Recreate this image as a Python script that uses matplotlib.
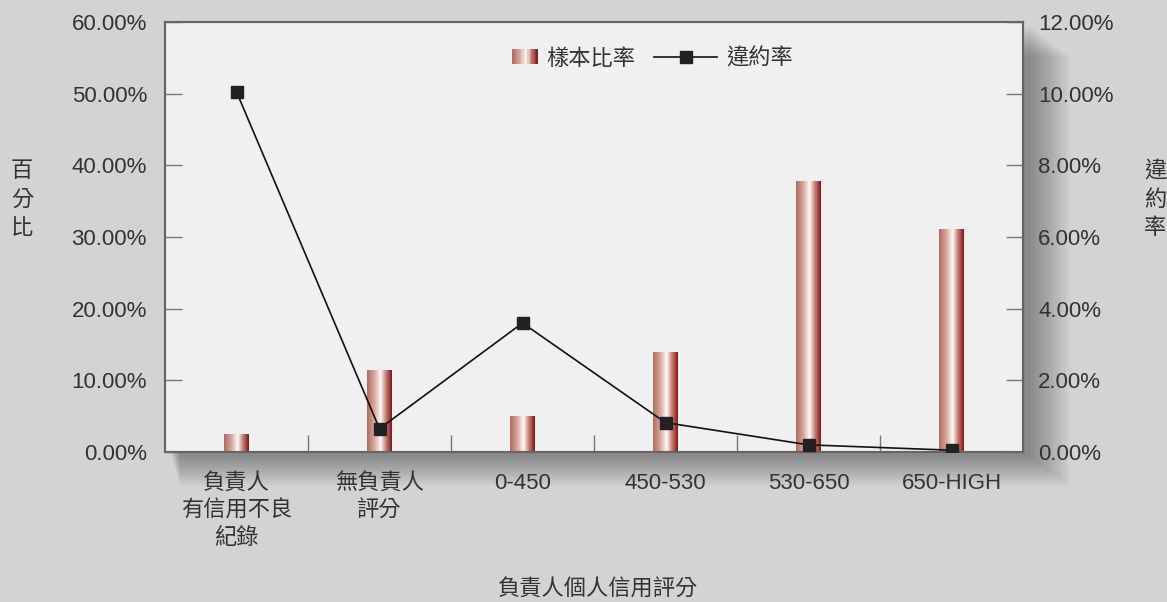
import numpy as np
import matplotlib
matplotlib.use("Agg")
from matplotlib import pyplot as plt
from matplotlib import colors
from matplotlib.patches import Rectangle
from matplotlib.legend_handler import HandlerBase
from matplotlib.lines import Line2D

plt.rcParams['font.family'] = ['Liberation Sans', 'Noto Sans CJK TC']

categories = ['負責人\n有信用不良\n紀錄', '無負責人\n評分', '0-450', '450-530', '530-650', '650-HIGH']
sample_ratio = [2.5, 11.4, 4.9, 13.9, 37.8, 31.0]
default_rate = [10.05, 0.65, 3.6, 0.82, 0.2, 0.05]

left_ticks = np.arange(0, 61, 10)
right_ticks = np.arange(0, 13, 2)

grad_cmap = colors.LinearSegmentedColormap.from_list('bar', [
	(0.0, (0.68, 0.42, 0.37)),
	(0.3, (0.85, 0.66, 0.62)),
	(0.55, (1.0, 0.98, 0.97)),
	(0.75, (0.78, 0.52, 0.48)),
	(1.0, (0.50, 0.08, 0.08)),
])

bg = '#d3d3d3'
fs = 16
txt = '#333333'
fig = plt.figure(figsize=(11.67, 6.02), dpi=100, facecolor=bg)

ax_pos = [165 / 1167, 1 - 452 / 602, (1023 - 165) / 1167, (452 - 22) / 602]

# soft shadow behind the plot area
for k in range(16):
	d = k * 2.0
	fig.patches.append(Rectangle((ax_pos[0] + (6 + d * 0.3) / 1167, ax_pos[1] - (d + 4) / 602),
		ax_pos[2] + (d + 2) / 1167, ax_pos[3],
		transform=fig.transFigure, facecolor='#000000', alpha=0.022, edgecolor='none', zorder=0))

ax = fig.add_axes(ax_pos, zorder=2)
ax.set_facecolor('#f0f0f0')
ax2 = ax.twinx()

x = np.arange(len(categories))
bw = 0.17
grad = np.linspace(0, 1, 256).reshape(1, -1)
for xi, v in zip(x, sample_ratio):
	ax.imshow(grad, cmap=grad_cmap, aspect='auto', extent=(xi - bw / 2, xi + bw / 2, 0, v),
		interpolation='bilinear', zorder=2)

ax.set_xlim(-0.5, len(categories) - 0.5)
ax.set_ylim(0, 60)
ax.set_yticks(left_ticks)
ax.set_yticklabels(['%.2f%%' % t for t in left_ticks])
ax.set_xticks(x)
ax.set_xticklabels(categories, linespacing=1.4)
ax.set_xticks(x[:-1] + 0.5, minor=True)
ax.tick_params(axis='x', which='major', length=0, pad=15, labelsize=fs, colors=txt)
ax.tick_params(axis='x', which='minor', length=12, direction='in', color='#777777', width=1)
ax.tick_params(axis='y', direction='in', length=12, color='#777777', width=1, labelsize=fs,
	labelcolor=txt, pad=13)

ax2.plot(x, default_rate, color='#111111', lw=1.2, marker='s', markersize=8,
	markerfacecolor='#222222', markeredgecolor='#222222', zorder=3)
ax2.set_ylim(0, 12)
ax2.set_yticks(right_ticks)
ax2.set_yticklabels(['%.2f%%' % t for t in right_ticks])
ax2.tick_params(axis='y', direction='in', length=12, color='#777777', width=1, labelsize=fs,
	labelcolor=txt, pad=11)

for a in (ax, ax2):
	for s in a.spines.values():
		s.set_color('#666666')
		s.set_linewidth(1.5)


class GradHandler(HandlerBase):
	# gradient swatch pushed to the right end of the handle box
	def create_artists(self, legend, orig_handle, xdescent, ydescent, width, height, fontsize, trans):
		arts = []
		n = 20
		w = 25 * 72 / 100
		h = 15 * 72 / 100
		x0 = -xdescent + width - w
		y0 = -ydescent + (height - h) / 2
		for i in range(n):
			r = Rectangle((x0 + w * i / n, y0), w / n + 0.3, h,
				facecolor=grad_cmap((i + 0.5) / n), edgecolor='none', transform=trans)
			arts.append(r)
		return arts


bar_handle = Rectangle((0, 0), 1, 1)
line_handle = Line2D([], [], color='#111111', lw=1.2, marker='s', markersize=8,
	markerfacecolor='#222222', markeredgecolor='#222222')
leg = ax2.legend([bar_handle, line_handle], ['樣本比率', '違約率'], loc='upper center',
	bbox_to_anchor=(0.546, 0.985), ncol=2, frameon=False, fontsize=fs,
	handler_map={Rectangle: GradHandler()}, handlelength=2.85, columnspacing=0.85, handletextpad=0.4)
for t in leg.get_texts():
	t.set_color(txt)

fig.text(22 / 1167, 1 - 200 / 602, '百\n分\n比', ha='center', va='center', fontsize=fs,
	color=txt, linespacing=1.45)
fig.text(1155 / 1167, 1 - 200 / 602, '違\n約\n率', ha='center', va='center', fontsize=fs,
	color=txt, linespacing=1.45)
fig.text(598 / 1167, 1 - 590 / 602, '負責人個人信用評分', ha='center', va='center',
	fontsize=fs, color=txt)

fig.savefig('out.png', dpi=100, facecolor=bg)
